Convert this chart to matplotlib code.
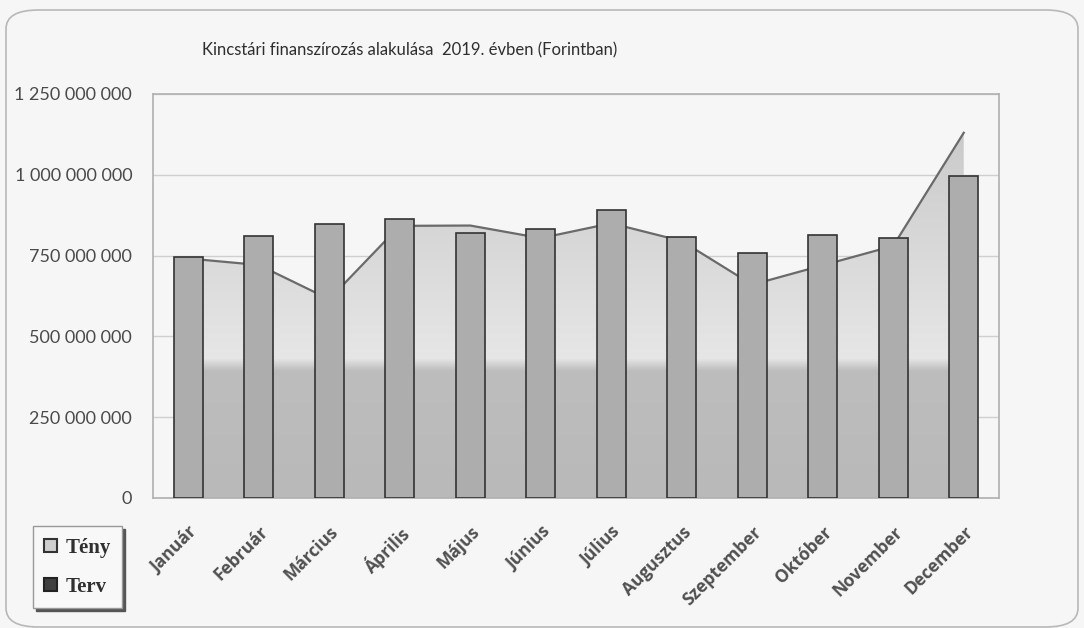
import numpy as np
import matplotlib
matplotlib.use("Agg")
import matplotlib.pyplot as plt
from matplotlib.patches import FancyBboxPatch, Patch
from matplotlib.ticker import FuncFormatter, MultipleLocator
from matplotlib.colors import LinearSegmentedColormap

# ---- data (Forint) ----
months = ["Január", "Február", "Március", "Április", "Május", "Június",
          "Július", "Augusztus", "Szeptember", "Október", "November", "December"]
teny = [741e6, 721e6, 615e6, 842e6, 843e6, 804e6,
        850e6, 795e6, 660e6, 720e6, 780e6, 1130e6]
terv = [747e6, 812e6, 849e6, 864e6, 820e6, 833e6,
        892e6, 809e6, 759e6, 815e6, 804e6, 997e6]
title = "Kincstári finanszírozás alakulása  2019. évben (Forintban)"
legend_labels = ["Tény", "Terv"]

W, H = 1084, 628
bg = "#f6f6f6"
fig = plt.figure(figsize=(W / 100, H / 100), dpi=100, facecolor=bg)

# rounded chart frame
frame = FancyBboxPatch((6 / W, 1 / H), (1078 - 6) / W, (618 - 1) / H,
                       boxstyle="round,pad=0,rounding_size=0.03",
                       transform=fig.transFigure, facecolor="none",
                       edgecolor="#b8b8b8", lw=1.2, zorder=0)
fig.patches.append(frame)

ax = fig.add_axes([153 / W, (H - 498) / H, (999 - 153) / W, (498 - 94) / H])
ax.set_facecolor(bg)

x = np.arange(len(months))
ymax = 1.25e9

# gridlines
ax.yaxis.set_major_locator(MultipleLocator(250e6))
ax.grid(axis="y", color="#cfcfcf", lw=1.0, zorder=0)
ax.set_axisbelow(True)

# area (Tény) with gradient fill
poly = ax.fill_between(x, 0, teny, facecolor="none", edgecolor="none", zorder=1)
split = 406e6 / ymax
cmap = LinearSegmentedColormap.from_list(
    "g", [(0.0, "#b9b9b9"), (split - 0.01, "#bdbdbd"), (split + 0.02, "#e6e6e6"),
          (1.0, "#c6c6c6")])
grad = np.linspace(0, 1, 500).reshape(-1, 1)
im = ax.imshow(grad, cmap=cmap, origin="lower", aspect="auto",
               extent=[x[0], x[-1], 0, ymax], zorder=1, vmin=0, vmax=1)
im.set_clip_path(poly.get_paths()[0], transform=ax.transData)
ax.plot(x, teny, color="#6a6a6a", lw=1.6, zorder=2)

# bars (Terv)
ax.bar(x, terv, width=0.41, color="#adadad", edgecolor="#333333", lw=1.2, zorder=3)

ax.set_xlim(-0.5, len(months) - 0.5)
ax.set_ylim(0, ymax)

for s in ax.spines.values():
    s.set_color("#b0b0b0")
    s.set_linewidth(1.2)

ax.yaxis.set_major_formatter(FuncFormatter(lambda v, p: f"{int(round(v)):,}".replace(",", " ")))
ax.tick_params(axis="y", length=0, pad=15, labelsize=13, labelcolor="#4a4a4a")
for lab in ax.get_yticklabels():
    lab.set_family("Lato")

ax.set_xticks(x)
ax.set_xticklabels(months, rotation=45, ha="right", va="top",
                   rotation_mode="anchor", fontsize=12.5,
                   color="#505050")
for lab in ax.get_xticklabels():
    lab.set_family("Open Sans")
    lab.set_fontweight("bold")
ax.tick_params(axis="x", length=0, pad=18)

fig.text(410 / W, 1 - 50 / H, title, ha="center", va="center",
         fontsize=12, color="#2e2e2e", family="Lato")

handles = [Patch(facecolor="#cfcfcf", edgecolor="#333333", lw=1.5),
           Patch(facecolor="#404040", edgecolor="#222222", lw=1.5)]
leg = fig.legend(handles, legend_labels, loc="lower left",
                 bbox_to_anchor=(33 / W, (H - 608) / H), borderaxespad=0,
                 prop={"family": "Liberation Serif", "weight": "bold", "size": 15},
                 frameon=True, fancybox=False, shadow={"color": "#555555", "alpha": 1.0},
                 handlelength=0.6, handleheight=0.6, handletextpad=0.4,
                 labelspacing=0.9, borderpad=0.55, labelcolor="#303030")
leg.get_frame().set_edgecolor("#999999")
leg.get_frame().set_facecolor("#f8f8f8")
leg.get_frame().set_linewidth(1.0)

fig.savefig("out.png", dpi=100, facecolor=bg)
